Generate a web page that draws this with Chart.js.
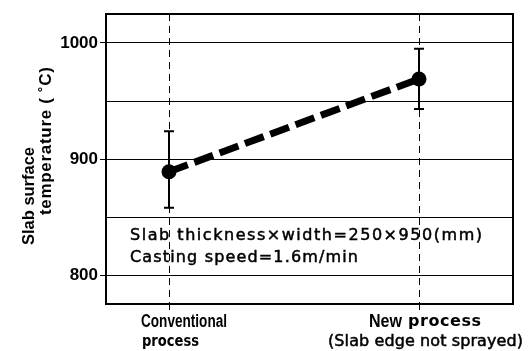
<!DOCTYPE html>
<html><head><meta charset="utf-8">
<script src="https://cdn.jsdelivr.net/npm/chart.js@4"></script>
<style>html,body{margin:0;padding:0;background:#fff}#wrap{width:531px;height:351px}</style>
</head><body><div id="wrap"><canvas id="c" width="531" height="351"></canvas></div>
<script>
const categories = [["Conventional", "process"], ["New", "process", "(Slab edge not sprayed)"]];
const categoryX = [0, 1];
const meanTemp = [889, 969];
const errLow = [858, 943];
const errHigh = [924, 995];
const yTicks = [800, 850, 900, 950, 1000];
const yTickLabels = ["800", "", "900", "", "1000"];
const noteLines = ["Slab thickness\u00d7width=250\u00d7950(mm)", "Casting speed=1.6m/min"];
const yTitleLines = ["Slab surface", "temperature ( \u02daC)"];

const HELV_B = "bold 18px 'Liberation Sans', Arial, sans-serif";
const TITLE_B = "bold 17px 'Liberation Sans', Arial, sans-serif";
const GOTHIC = "16px 'DejaVu Sans', sans-serif";
const GOTHIC_B = "bold 16px 'DejaVu Sans', sans-serif";

// draw text stretched/spaced to a given visible width, starting at left edge x
function fitText(ctx, text, x, y, font, width, mode, heavy) {
  ctx.font = font;
  const hasLS = 'letterSpacing' in ctx;
  if (hasLS) ctx.letterSpacing = '0px';
  const w = ctx.measureText(text).width;
  ctx.textAlign = 'left';
  ctx.lineWidth = 0.5;
  ctx.strokeStyle = '#000';
  if (mode === 'ls' && hasLS && text.length > 1) {
    ctx.letterSpacing = ((width - w) / (text.length - 1)) + 'px';
    ctx.fillText(text, x, y);
    if (heavy) ctx.strokeText(text, x, y);
    ctx.letterSpacing = '0px';
  } else {
    ctx.save();
    ctx.translate(x, y);
    ctx.scale(width / w, 1);
    ctx.fillText(text, 0, 0);
    if (heavy) ctx.strokeText(text, 0, 0);
    ctx.restore();
  }
}

const extras = {
  id: 'extras',
  beforeDatasetsDraw(chart) {
    const ctx = chart.ctx, xs = chart.scales.x, ys = chart.scales.y;
    ctx.save();
    ctx.strokeStyle = '#000';
    ctx.lineWidth = 2;
    categoryX.forEach((cx, i) => {
      const px = xs.getPixelForValue(cx);
      const yl = ys.getPixelForValue(errLow[i]);
      const yh = ys.getPixelForValue(errHigh[i]);
      ctx.beginPath();
      ctx.moveTo(px, yl); ctx.lineTo(px, yh);
      ctx.moveTo(px - 5, yl); ctx.lineTo(px + 5, yl);
      ctx.moveTo(px - 5, yh); ctx.lineTo(px + 5, yh);
      ctx.stroke();
    });
    ctx.restore();
  },
  afterDraw(chart) {
    const ctx = chart.ctx, a = chart.chartArea, xs = chart.scales.x, ys = chart.scales.y;
    ctx.save();
    ctx.strokeStyle = '#000';
    ctx.lineWidth = 2;
    ctx.strokeRect(a.left, a.top, a.right - a.left, a.bottom - a.top);
    ctx.fillStyle = '#000';
    ctx.textBaseline = 'middle';
    // note text
    fitText(ctx, noteLines[0], a.left + 24, ys.getPixelForValue(834), GOTHIC, 352, 'ls', true);
    fitText(ctx, noteLines[1], a.left + 24, ys.getPixelForValue(815), GOTHIC, 228, 'ls', true);
    // x labels
    const p0 = xs.getPixelForValue(categoryX[0]);
    const p1 = xs.getPixelForValue(categoryX[1]);
    const l1 = a.bottom + 18, l2 = a.bottom + 38;
    fitText(ctx, categories[0][0], p0 - 28, l1, HELV_B, 86, 'scale');
    fitText(ctx, categories[0][1], p0 - 27, l2, GOTHIC_B, 57, 'scale');
    fitText(ctx, categories[1][0], p1 - 50, l1, HELV_B, 33, 'scale');
    fitText(ctx, categories[1][1], p1 - 11, l1, GOTHIC_B, 73, 'ls');
    fitText(ctx, categories[1][2], p1 - 91, l2, GOTHIC, 195, 'ls', true);
    // y title
    ctx.save();
    ctx.translate(29, 196); ctx.rotate(-Math.PI / 2);
    fitText(ctx, yTitleLines[0], -49, 0, TITLE_B, 98, 'scale');
    ctx.restore();
    ctx.save();
    ctx.translate(46, 141); ctx.rotate(-Math.PI / 2);
    fitText(ctx, yTitleLines[1], -74, 0, TITLE_B, 148, 'ls');
    ctx.restore();
    ctx.restore();
  }
};

new Chart(document.getElementById('c'), {
  type: 'scatter',
  data: {
    datasets: [{
      data: categoryX.map((x, i) => ({ x: x, y: meanTemp[i] })),
      showLine: true,
      borderColor: '#000',
      borderWidth: 7,
      borderDash: [20, 7],
      borderCapStyle: 'butt',
      pointRadius: 7.5,
      pointBackgroundColor: '#000',
      pointBorderWidth: 0,
      pointHoverRadius: 7.5
    }]
  },
  options: {
    responsive: false,
    devicePixelRatio: 1,
    animation: false,
    layout: { padding: { top: 14, right: 18, left: 0, bottom: 0 } },
    plugins: { legend: { display: false }, tooltip: { enabled: false } },
    scales: {
      x: {
        type: 'linear', min: -0.252, max: 1.376,
        afterBuildTicks: s => { s.ticks = categoryX.map(v => ({ value: v })); },
        afterFit: s => { s.height = 47; },
        ticks: { display: false },
        border: { display: false, dash: [7, 5] },
        grid: { color: '#000', lineWidth: 1, tickLength: 6, tickColor: '#000', tickBorderDash: [] }
      },
      y: {
        type: 'linear', min: 775, max: 1025,
        afterBuildTicks: s => { s.ticks = yTicks.map(v => ({ value: v })); },
        afterFit: s => { s.width = 106; },
        ticks: {
          color: '#000', padding: 2,
          font: { family: "'Liberation Sans', Arial, sans-serif", size: 17, weight: 'bold' },
          callback: (v, i) => yTickLabels[i]
        },
        border: { display: false },
        grid: {
          color: '#000', lineWidth: 1, tickLength: 6,
          tickColor: c => (yTickLabels[c.index] ? '#000' : 'rgba(0,0,0,0)')
        }
      }
    }
  },
  plugins: [extras]
});
</script>
</body></html>
